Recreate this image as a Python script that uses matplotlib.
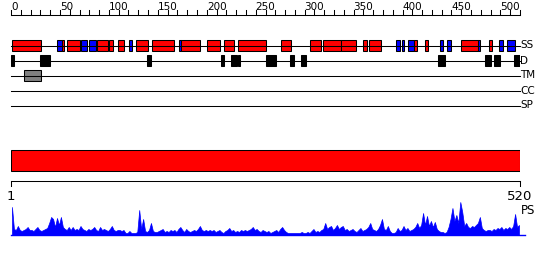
import numpy as np
import matplotlib.pyplot as plt
from matplotlib.patches import Rectangle

seq_len = 520

# secondary structure elements (residue ranges), H = helix, E = strand
ss_start = [1, 47, 52, 57, 72, 80, 88, 100, 109, 121, 128, 144, 172, 174, 200, 218,
            232, 276, 305, 319, 337, 360, 366, 393, 399, 406, 412, 423, 438, 445,
            460, 477, 488, 499, 507]
ss_end = [31, 52, 54, 70, 78, 87, 99, 104, 115, 124, 140, 167, 174, 193, 214, 228,
          261, 286, 317, 337, 352, 364, 378, 397, 401, 412, 415, 426, 441, 449,
          477, 479, 491, 503, 515]
ss_type = ['H', 'E', 'H', 'H', 'E', 'E', 'H', 'H', 'H', 'E', 'H', 'H', 'E', 'H', 'H', 'H',
           'H', 'H', 'H', 'H', 'H', 'H', 'H', 'E', 'E', 'E', 'H', 'H', 'E', 'E',
           'H', 'E', 'H', 'E', 'E']

# disordered regions
dis_start = [0, 30, 139, 215, 225, 232, 260, 285, 296, 436, 484, 493, 514]
dis_end = [3, 40, 143, 218, 231, 234, 271, 289, 301, 443, 490, 500, 520]

# transmembrane segment
tm_start = [13]
tm_end = [31]

track_names = ['SS', 'D', 'TM', 'CC', 'SP']

ruler_ticks = np.arange(0, 521, 10)
ruler_labels = np.arange(0, 501, 50)

# PS profile, read every 2 residues (height in px)
ps_pos = np.arange(1, 520, 2)
ps_val = np.array([
    28, 6, 5, 9, 5, 4, 5, 6, 8, 5,
    5, 4, 6, 8, 5, 4, 5, 6, 7, 12,
    18, 16, 8, 17, 10, 18, 8, 6, 5, 8,
    5, 8, 5, 6, 5, 9, 6, 5, 4, 6,
    5, 6, 8, 5, 4, 8, 5, 6, 5, 4,
    6, 9, 5, 4, 5, 5, 4, 5, 2, 2,
    4, 2, 2, 2, 3, 25, 6, 16, 4, 3,
    5, 12, 4, 3, 3, 4, 5, 6, 3, 4,
    3, 5, 4, 5, 3, 6, 8, 5, 3, 6,
    4, 3, 4, 5, 4, 6, 9, 5, 4, 5,
    4, 5, 4, 5, 3, 4, 5, 3, 2, 4,
    5, 7, 4, 5, 3, 4, 3, 5, 4, 5,
    4, 5, 6, 8, 5, 6, 4, 3, 5, 4,
    3, 4, 2, 3, 4, 5, 3, 6, 8, 5,
    3, 2, 2, 2, 2, 2, 2, 2, 3, 2,
    2, 3, 2, 4, 6, 3, 4, 3, 5, 6,
    12, 6, 8, 9, 5, 7, 10, 6, 8, 9,
    5, 6, 4, 5, 6, 4, 3, 5, 7, 4,
    5, 6, 8, 12, 6, 5, 4, 6, 10, 16,
    6, 5, 9, 4, 2, 2, 3, 7, 4, 5,
    9, 5, 7, 4, 5, 6, 8, 12, 7, 10,
    22, 10, 19, 9, 14, 8, 13, 6, 4, 3,
    3, 2, 3, 8, 16, 27, 14, 20, 12, 33,
    23, 9, 12, 8, 7, 9, 8, 10, 12, 18,
    7, 5, 4, 5, 5, 4, 6, 5, 7, 6,
    8, 5, 7, 6, 8, 6, 9, 21, 8, 10,
])

# vertical layout (px from top)
ruler_y = 15
track_y = [45.5, 60.5, 75.5, 90.5, 105.5]
box_h = 10.5
bar_top, bar_bot = 150, 170.5
axis_y = 180.5
ps_base = 235

fig = plt.figure(figsize=(5.5, 2.6), dpi=100)
ax = fig.add_axes([11 / 550, 0, 509 / 550, 1])
ax.set_xlim(0, seq_len)
ax.set_ylim(260, 0)
ax.axis('off')

lw = 0.75

# top ruler
ax.plot([0, seq_len], [ruler_y, ruler_y], color='black', lw=lw, clip_on=False)
for t in ruler_ticks:
    ax.plot([t, t], [ruler_y - 5, ruler_y], color='black', lw=lw, clip_on=False)
for t in ruler_labels:
    ax.text(t, ruler_y - 4.5, str(t), ha='left', va='baseline', fontsize=7.5, clip_on=False)

# track lines and labels
for name, y in zip(track_names, track_y):
    ax.plot([0, seq_len], [y, y], color='black', lw=lw, clip_on=False)
    ax.text(seq_len + 0.5, y, name, ha='left', va='center', fontsize=7.5, clip_on=False)

# secondary structure boxes
for s, e, t in zip(ss_start, ss_end, ss_type):
    color = 'red' if t == 'H' else 'blue'
    ax.add_patch(Rectangle((s, track_y[0] - box_h / 2), e - s, box_h,
                           facecolor=color, edgecolor='black', lw=lw))

# disorder boxes
for s, e in zip(dis_start, dis_end):
    ax.add_patch(Rectangle((s, track_y[1] - box_h / 2), e - s, box_h,
                           facecolor='black', edgecolor='black', lw=lw))

# transmembrane
for s, e in zip(tm_start, tm_end):
    ax.add_patch(Rectangle((s, track_y[2] - box_h / 2), e - s, box_h,
                           facecolor='#808080', edgecolor='black', lw=lw))

# full-length domain bar
ax.add_patch(Rectangle((0, bar_top), seq_len, bar_bot - bar_top,
                       facecolor='red', edgecolor='black', lw=lw))

# bottom axis
ax.plot([0, seq_len], [axis_y, axis_y], color='black', lw=lw, clip_on=False)
for t in [0, seq_len]:
    ax.plot([t, t], [axis_y, axis_y + 5], color='black', lw=lw, clip_on=False)
ax.text(0, 200, '1', ha='center', va='baseline', fontsize=9.5)
ax.text(seq_len, 200, str(seq_len), ha='center', va='baseline', fontsize=9.5, clip_on=False)
ax.text(seq_len + 0.5, 211, 'PS', ha='left', va='center', fontsize=8.5, clip_on=False)

# PS profile
ax.fill_between(ps_pos, ps_base, ps_base - ps_val, color='blue', lw=0.5)
ax.plot([0, seq_len + 5], [ps_base, ps_base], color='blue', lw=1, clip_on=False)

fig.savefig('out.png', dpi=100)
